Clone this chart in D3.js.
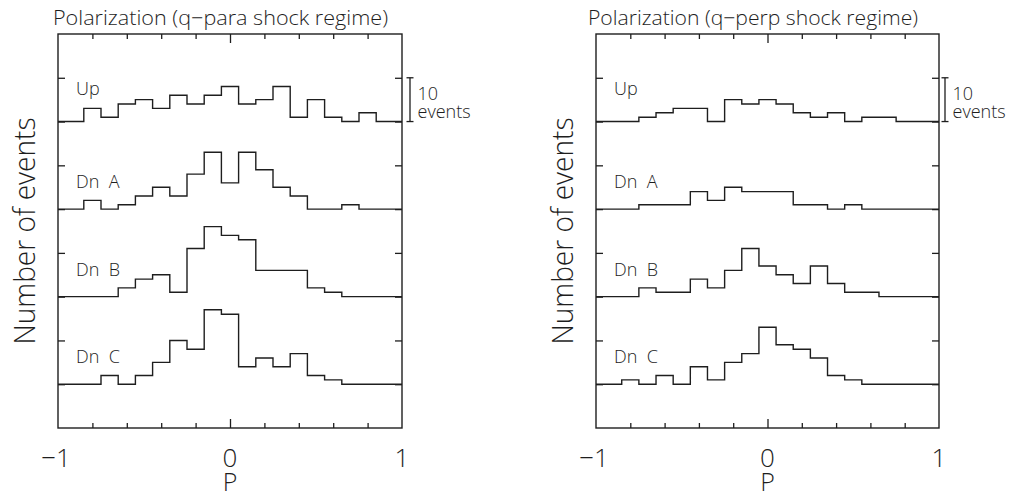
<!DOCTYPE html>
<html>
<head>
<meta charset="utf-8">
<script src="https://cdn.jsdelivr.net/npm/d3@7"></script>
<style>
  html, body { margin: 0; padding: 0; background: #fff; }
  svg { display: block; }
  text { font-family: "Open Sans", "DejaVu Sans", Roboto, sans-serif; font-weight: 300; fill: #1e1e1e; }
</style>
</head>
<body>
<svg id="chart" width="1016" height="497"></svg>
<script>
// Histogram bins of polarization P (width 0.1)
const binCenters = [-0.9, -0.8, -0.7, -0.6, -0.5, -0.4, -0.3, -0.2, -0.1, 0.0,
                    0.1, 0.2, 0.3, 0.4, 0.5, 0.6, 0.7, 0.8, 0.9];
const binWidth = 0.1;

// Event counts per bin, q-parallel shock regime
const paraUp  = [0, 3, 1, 4, 5, 3, 6, 4, 6, 8, 4, 5, 8, 1, 5, 1, 0, 2, 0];
const paraDnA = [0, 2, 0, 1, 3, 5, 3, 8, 13, 6, 13, 9, 5, 3, 0, 0, 1, 0, 0];
const paraDnB = [0, 0, 0, 2, 4, 5, 1, 11, 16, 14, 13, 6, 6, 6, 2, 1, 0, 0, 0];
const paraDnC = [0, 0, 2, 0, 2, 5, 10, 8, 17, 16, 4, 6, 4, 7, 2, 1, 0, 0, 0];

// Event counts per bin, q-perpendicular shock regime
const perpUp  = [0, 0, 1, 2, 3, 3, 0, 5, 4, 5, 4, 2, 1, 2, 0, 1, 1, 0, 0];
const perpDnA = [0, 0, 1, 1, 1, 4, 2, 5, 4, 4, 4, 1, 1, 0, 1, 0, 0, 0, 0];
const perpDnB = [0, 0, 2, 1, 1, 4, 2, 6, 11, 7, 5, 3, 7, 3, 1, 1, 0, 0, 0];
const perpDnC = [0, 1, 0, 2, 0, 4, 1, 5, 7, 13, 9, 8, 6, 2, 1, 0, 0, 0, 0];

// Region labels and the vertical offset (in events) of each stacked histogram
const regionLabels = ["Up", "Dn  A", "Dn  B", "Dn  C"];
const regionOffsets = [70, 50, 30, 10];

const panelTitles = ["Polarization (q\u2212para shock regime)", "Polarization (q\u2212perp shock regime)"];
const xTickValues = [-1, 0, 1];
const xTickLabels = ["\u22121", "0", "1"];
const xMinorTicks = [-0.8, -0.6, -0.4, -0.2, 0.2, 0.4, 0.6, 0.8];
const yTickValues = [10, 20, 30, 40, 50, 60, 70, 80];
const yDomain = [0, 90];
const scaleBarEvents = 10;

const panels = [
  { title: panelTitles[0], series: [paraUp, paraDnA, paraDnB, paraDnC], left: 58, right: 402, titleX: 53, titleW: 335 },
  { title: panelTitles[1], series: [perpUp, perpDnA, perpDnB, perpDnC], left: 596, right: 939, titleX: 588, titleW: 330 }
];

const svg = d3.select("#chart");
svg.append("rect").attr("width", 1016).attr("height", 497).attr("fill", "#fff");

const plotTop = 34, plotBottom = 428;
const ink = "#1e1e1e";

panels.forEach(p => {
  const g = svg.append("g");
  const x = d3.scaleLinear().domain([-1, 1]).range([p.left, p.right]);
  const y = d3.scaleLinear().domain(yDomain).range([plotBottom, plotTop]);

  // Title
  g.append("text")
    .attr("x", p.titleX).attr("y", 25)
    .attr("font-size", 20)
    .attr("textLength", p.titleW).attr("lengthAdjust", "spacingAndGlyphs")
    .text(p.title);

  // Tick marks on all four sides, pointing inward
  const tickStyle = sel => {
    sel.select(".domain").remove();
    sel.selectAll(".tick line").attr("stroke", ink).attr("stroke-width", 1.3);
    sel.selectAll(".tick text").remove();
  };
  g.append("g").attr("transform", `translate(0,${plotTop})`)
    .call(d3.axisBottom(x).tickValues(xMinorTicks).tickSize(5)).call(tickStyle);
  g.append("g").attr("transform", `translate(0,${plotTop})`)
    .call(d3.axisBottom(x).tickValues([0]).tickSize(9)).call(tickStyle);
  g.append("g").attr("transform", `translate(0,${plotBottom})`)
    .call(d3.axisTop(x).tickValues(xMinorTicks).tickSize(5)).call(tickStyle);
  g.append("g").attr("transform", `translate(0,${plotBottom})`)
    .call(d3.axisTop(x).tickValues([0]).tickSize(9)).call(tickStyle);
  g.append("g").attr("transform", `translate(${p.left},0)`)
    .call(d3.axisRight(y).tickValues(yTickValues).tickSize(7)).call(tickStyle);
  g.append("g").attr("transform", `translate(${p.right},0)`)
    .call(d3.axisLeft(y).tickValues(yTickValues).tickSize(7)).call(tickStyle);

  // Stacked step histograms
  const line = d3.line().x(d => x(d[0])).y(d => y(d[1])).curve(d3.curveStepAfter);
  p.series.forEach((vals, i) => {
    const base = regionOffsets[i];
    const pts = [[-1, base]];
    binCenters.forEach((c, j) => pts.push([c - binWidth / 2, base + vals[j]]));
    pts.push([binCenters[binCenters.length - 1] + binWidth / 2, base]);
    pts.push([1, base]);
    g.append("path").attr("d", line(pts))
      .attr("fill", "none").attr("stroke", ink).attr("stroke-width", 1.4);

    g.append("text")
      .attr("x", p.left + 18)
      .attr("y", y(base) - (i === 0 ? 26.5 : 21))
      .attr("font-size", 18)
      .attr("fill", ink)
      .attr("xml:space", "preserve")
      .text(regionLabels[i]);
  });

  // Panel frame
  g.append("rect")
    .attr("x", p.left).attr("y", plotTop)
    .attr("width", p.right - p.left).attr("height", plotBottom - plotTop)
    .attr("fill", "none").attr("stroke", ink).attr("stroke-width", 1.4);

  // X tick labels and axis title
  xTickValues.forEach((v, k) => {
    g.append("text")
      .attr("x", x(v) + (v < 0 ? -2 : 0)).attr("y", 466.5)
      .attr("text-anchor", "middle").attr("font-size", 26)
      .text(xTickLabels[k]);
  });
  g.append("text")
    .attr("x", x(0)).attr("y", 491)
    .attr("text-anchor", "middle").attr("font-size", 25)
    .text("P");

  // Y axis title
  g.append("text")
    .attr("transform", `translate(${p.left - 23},231) rotate(-90)`)
    .attr("text-anchor", "middle").attr("font-size", 29)
    .attr("textLength", 227).attr("lengthAdjust", "spacingAndGlyphs")
    .text("Number of events");

  // Scale bar for 10 events
  const bx = p.right + 8 - (p.right > 900 ? 2 : 0);
  const y0 = y(regionOffsets[0]), y1 = y(regionOffsets[0] + scaleBarEvents);
  const sb = g.append("g").attr("stroke", ink).attr("stroke-width", 1.3);
  sb.append("line").attr("x1", bx).attr("x2", bx).attr("y1", y0).attr("y2", y1);
  sb.append("line").attr("x1", bx - 3.5).attr("x2", bx + 3.5).attr("y1", y0).attr("y2", y0);
  sb.append("line").attr("x1", bx - 3.5).attr("x2", bx + 3.5).attr("y1", y1).attr("y2", y1);
  const sbText = g.append("text").attr("font-size", 18);
  sbText.append("tspan").attr("x", bx + 7.5).attr("y", 100).text("10");
  sbText.append("tspan").attr("x", bx + 7.5).attr("y", 118).text("events");
});
</script>
</body>
</html>
